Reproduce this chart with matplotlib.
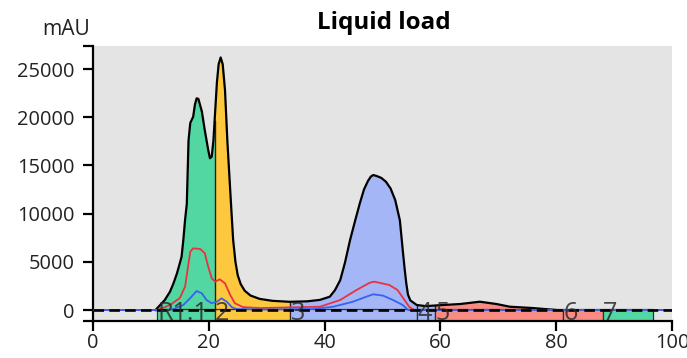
import numpy as np
import matplotlib
matplotlib.use("Agg")
import matplotlib.pyplot as plt
from matplotlib.patches import Rectangle

plt.rcParams['font.family'] = ['Open Sans', 'DejaVu Sans']

# ---- data ----
title = "Liquid load"
y_unit = "mAU"

uv_x = [10.8, 11.6, 12.4, 13.3, 13.9, 14.5, 15.0, 15.3, 15.6, 15.9, 16.2, 16.5, 16.8, 17.3,
        17.6, 17.9, 18.2, 18.8, 19.3, 19.9, 20.2, 20.5, 20.8, 21.1, 21.4, 21.7, 22.05, 22.4,
        22.8, 23.2, 23.7, 24.2, 24.6, 25.0, 25.5, 26.2, 27.2, 28.8, 31.0, 34.0, 37.0, 39.2,
        40.9, 41.8, 42.7, 43.5, 44.4, 45.3, 46.1, 46.8, 47.5, 48.0, 48.4, 49.0, 49.8, 50.6,
        51.4, 52.2, 53.0, 53.5, 53.8, 54.1, 54.4, 54.8, 55.9, 57.5, 59.9, 63.4, 66.8, 69.7,
        72.0, 76.0, 80.0]
uv_y = [0, 520, 1040, 1900, 2770, 3800, 4870, 5530, 7260, 9340, 11000, 17600, 19400, 20050,
        21300, 21960, 21900, 20600, 18670, 16600, 15740, 15900, 17600, 20600, 23600, 25500,
        26200, 25500, 22800, 17600, 12400, 7300, 5000, 3600, 2700, 2000, 1500, 1150, 950, 850,
        900, 1050, 1380, 2070, 3100, 4870, 7260, 9330, 11100, 12500, 13400, 13850, 14000,
        13900, 13700, 13300, 12600, 11400, 9300, 6200, 4400, 2800, 1600, 1000, 520, 400, 500,
        620, 860, 620, 340, 200, 0]

red_x = [0, 11.0, 12.1, 13.5, 15.0, 15.9, 16.5, 16.8, 17.3, 18.5, 19.3, 19.9, 20.5, 21.1,
         21.9, 22.8, 23.7, 24.5, 25.9, 28.8, 39.2, 42.7, 45.5, 47.8, 48.6, 51.2, 52.6, 53.8,
         54.6, 55.5, 100]
red_y = [0, 0, 200, 600, 1240, 2420, 4840, 6050, 6400, 6330, 5900, 4490, 3290, 2940, 3180,
         2770, 1560, 700, 300, 200, 340, 1040, 2070, 2830, 2940, 2590, 2070, 1040, 340, 0, 0]

blue_x = [0, 13.0, 13.9, 15.6, 16.8, 17.9, 18.8, 19.6, 20.5, 21.4, 22.2, 23.1, 24.0, 24.8,
          30.0, 38.0, 41.5, 44.9, 47.2, 48.4, 50.1, 51.8, 53.5, 54.4, 100]
blue_y = [0, 0, 100, 520, 1240, 1970, 1730, 1040, 700, 860, 1210, 860, 280, 100, 50, 100,
          340, 860, 1380, 1630, 1490, 1040, 520, 0, 0]

frac_labels = ['R1.1', '2', '3', '4', '5', '6', '7']
frac_starts = [11.05, 21.0, 34.0, 55.9, 59.1, 81.1, 88.0]
frac_end = 96.8

x_ticks = [0, 20, 40, 60, 80, 100]
y_ticks = [0, 5000, 10000, 15000, 20000, 25000]

# ---- styles ----
GREEN = '#52d7a2'
YELLOW = '#fdc83e'
BLUE = '#a5b6f6'
SALMON = '#f98b83'
frac_colors = [GREEN, YELLOW, BLUE, BLUE, SALMON, SALMON, GREEN]

W, H = 687, 358
fig = plt.figure(figsize=(W / 100, H / 100), dpi=100)
ax = fig.add_axes([93 / W, 37 / H, (672 - 93) / W, (321 - 46) / H])
ax.set_facecolor('#e4e4e4')
ymin, ymax = -1141, 27386
ax.set_xlim(0, 100)
ax.set_ylim(ymin, ymax)

uvx = np.array(uv_x, float)
uvy = np.array(uv_y, float)
bounds = frac_starts + [frac_end]

frac_texts = []
for i, c in enumerate(frac_colors):
    a, b = bounds[i], bounds[i + 1]
    m = (uvx > a) & (uvx < b)
    xs = np.concatenate([[a], uvx[m], [b]])
    ys = np.interp(xs, uvx, uvy, left=0, right=0)
    ax.fill_between(xs, 0, ys, color=c, lw=0, zorder=1)
    ax.add_patch(Rectangle((a, ymin), b - a, -ymin + 80, facecolor=c,
                           edgecolor='#2e2e2e', lw=0.9, zorder=2))
    t = ax.text(a + 0.1, ymin + 90, frac_labels[i], ha='left', va='baseline',
                fontsize=16, color='#2a2a2a', alpha=0.85, zorder=7)
    frac_texts.append(t)
    top = np.interp(a, uvx, uvy, left=0, right=0)
    if top > 0:
        ax.plot([a, a], [0, top], color='#222222', lw=1.0, zorder=2.5)

ax.plot(red_x, red_y, color='#e8333e', lw=1.3, zorder=4)
ax.plot(blue_x, blue_y, color='#3563ee', lw=1.3, zorder=5)
ax.plot(uv_x, uv_y, color='black', lw=1.6, zorder=3)
ax.axhline(0, color='black', lw=1.9, ls=(0, (4, 2)), zorder=6)

for s in ['top', 'right']:
    ax.spines[s].set_visible(False)
for s in ['left', 'bottom']:
    ax.spines[s].set_linewidth(1.6)
ax.set_xticks(x_ticks)
ax.set_yticks(y_ticks)
ax.set_yticks([ymin, ymax], minor=True)
ax.tick_params(axis='both', which='both', length=7, width=1.6, labelsize=14.5,
               colors='black')
ax.tick_params(axis='y', pad=6)
ax.tick_params(axis='x', pad=2)
for lab in ax.get_xticklabels() + ax.get_yticklabels():
    lab.set_color('#222222')

unit_t = fig.text(90 / W, 1 - 35 / H, y_unit, ha='right', va='baseline', fontsize=13,
                  color='#222222')
title_t = fig.text(384 / W, 1 - 29 / H, title, ha='center', va='baseline', fontsize=14.5,
                   fontweight='bold', color='black')

# fit text sizes to the widths measured on the reference (pixels)
fig.canvas.draw()
r = fig.canvas.get_renderer()

def fit(texts, target_px, probe):
    w = probe.get_window_extent(r).width
    if w > 0:
        k = target_px / w
        for t in texts:
            t.set_fontsize(t.get_fontsize() * k)
        return k
    return 1.0

probe = [l for l in ax.get_yticklabels() if l.get_text() == '25000'][0]
k = fit([], 57, probe)
ax.tick_params(axis='both', labelsize=14.5 * k)
fit([unit_t], 48, unit_t)
fit([title_t], 133, title_t)
fit(frac_texts, 51, frac_texts[0])

fig.savefig('out.png', dpi=100)
